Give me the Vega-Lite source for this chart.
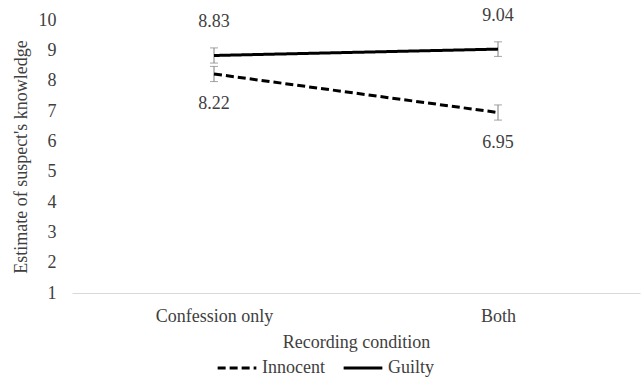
{
  "$schema": "https://vega.github.io/schema/vega-lite/v6.json",
  "width": 568,
  "height": 273,
  "autosize": "none",
  "padding": {"left": 72, "top": 20, "right": 2, "bottom": 84},
  "background": "white",
  "config": {
    "font": "Liberation Serif",
    "view": {"stroke": null},
    "axis": {"labelFont": "Liberation Serif", "titleFont": "Liberation Serif", "labelColor": "#404040", "titleColor": "#404040", "titleFontWeight": "normal", "labelFontSize": 18, "titleFontSize": 18},
    "axisY": {"labelOverlap": false, "labelBound": false, "labelFlush": false},
    "legend": {"labelFont": "Liberation Serif", "labelColor": "#404040", "labelFontSize": 18}
  },
  "data": {
    "values": [
      {"condition": "Confession only", "group": "Innocent", "mean": 8.22, "se": 0.25},
      {"condition": "Both", "group": "Innocent", "mean": 6.95, "se": 0.25},
      {"condition": "Confession only", "group": "Guilty", "mean": 8.83, "se": 0.25},
      {"condition": "Both", "group": "Guilty", "mean": 9.04, "se": 0.24}
    ]
  },
  "encoding": {
    "x": {
      "field": "condition", "type": "nominal", "sort": ["Confession only", "Both"],
      "scale": {"type": "point", "padding": 0.5},
      "axis": {"title": "Recording condition", "labelAngle": 0, "ticks": false, "domainColor": "#d9d9d9", "domainWidth": 1, "labelPadding": 14, "titlePadding": 8, "grid": false}
    },
    "y": {
      "field": "mean", "type": "quantitative",
      "scale": {"domain": [1, 10], "nice": false, "zero": false},
      "axis": {"title": "Estimate of suspect's knowledge", "values": [1,2,3,4,5,6,7,8,9,10], "labelOverlap": false, "domain": false, "ticks": false, "grid": false, "labelPadding": 16, "titlePadding": 8}
    }
  },
  "layer": [
    {
      "mark": {"type": "errorbar", "color": "#7f7f7f", "rule": {"strokeWidth": 1}, "ticks": {"size": 8, "thickness": 1, "color": "#7f7f7f"}},
      "encoding": {"yError": {"field": "se"}}
    },
    {
      "mark": {"type": "line", "color": "black", "strokeWidth": 3},
      "encoding": {
        "strokeDash": {
          "field": "group", "type": "nominal",
          "scale": {"domain": ["Innocent", "Guilty"], "range": [[8, 4], [1, 0]]},
          "legend": {"title": null, "orient": "none", "legendX": 144, "legendY": 327, "direction": "horizontal", "symbolType": "stroke", "symbolSize": 1500, "symbolStrokeWidth": 3, "symbolStrokeColor": "black", "columnPadding": 12, "labelOffset": 4}
        },
        "detail": {"field": "group"}
      }
    },
    {
      "transform": [{"filter": "datum.group === 'Guilty'"}],
      "mark": {"type": "text", "font": "Liberation Serif", "fontSize": 18, "color": "#404040", "dy": -33, "baseline": "middle"},
      "encoding": {
        "text": {"field": "mean", "type": "quantitative", "format": ".2f"}
      }
    },
    {
      "transform": [{"filter": "datum.group === 'Innocent'"}],
      "mark": {"type": "text", "font": "Liberation Serif", "fontSize": 18, "color": "#404040", "dy": 30, "baseline": "middle"},
      "encoding": {
        "text": {"field": "mean", "type": "quantitative", "format": ".2f"}
      }
    }
  ]
}
